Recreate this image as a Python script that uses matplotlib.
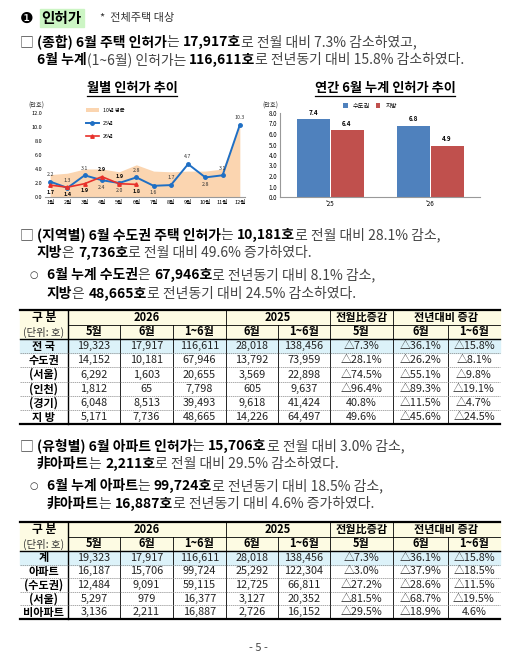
import matplotlib
matplotlib.use("Agg")
import matplotlib.pyplot as plt
import numpy as np

plt.rcParams['font.family'] = ['Noto Sans CJK KR', 'DejaVu Sans']

W, H = 516, 659

# ---- data ----
months = ['1월', '2월', '3월', '4월', '5월', '6월', '7월', '8월', '9월', '10월', '11월', '12월']
avg10 = [3.2, 3.4, 4.0, 4.0, 3.6, 4.6, 3.7, 3.6, 3.7, 3.7, 4.0, 10.2]
y25 = [2.2, 1.3, 3.1, 2.4, 2.0, 2.8, 1.6, 1.7, 4.7, 2.8, 3.1, 10.3]
y26 = [1.7, 1.4, 1.9, 2.9, 1.9, 1.8]

bar_years = ["'25", "'26"]
metro = [7.4, 6.8]
local = [6.4, 4.9]

t1_rows = ['전 국', '수도권', '(서울)', '(인천)', '(경기)', '지 방']
t1_vals = [
    ['19,323', '17,917', '116,611', '28,018', '138,456', '△7.3%', '△36.1%', '△15.8%'],
    ['14,152', '10,181', '67,946', '13,792', '73,959', '△28.1%', '△26.2%', '△8.1%'],
    ['6,292', '1,603', '20,655', '3,569', '22,898', '△74.5%', '△55.1%', '△9.8%'],
    ['1,812', '65', '7,798', '605', '9,637', '△96.4%', '△89.3%', '△19.1%'],
    ['6,048', '8,513', '39,493', '9,618', '41,424', '40.8%', '△11.5%', '△4.7%'],
    ['5,171', '7,736', '48,665', '14,226', '64,497', '49.6%', '△45.6%', '△24.5%'],
]
t2_rows = ['계', '아파트', '(수도권)', '(서울)', '비아파트']
t2_vals = [
    ['19,323', '17,917', '116,611', '28,018', '138,456', '△7.3%', '△36.1%', '△15.8%'],
    ['16,187', '15,706', '99,724', '25,292', '122,304', '△3.0%', '△37.9%', '△18.5%'],
    ['12,484', '9,091', '59,115', '12,725', '66,811', '△27.2%', '△28.6%', '△11.5%'],
    ['5,297', '979', '16,377', '3,127', '20,352', '△81.5%', '△68.7%', '△19.5%'],
    ['3,136', '2,211', '16,887', '2,726', '16,152', '△29.5%', '△18.9%', '4.6%'],
]
head1 = [('2026', 1, 4), ('2025', 4, 6), ('전월比증감', 6, 7), ('전년대비 증감', 7, 9)]
head2 = ['5월', '6월', '1~6월', '6월', '1~6월', '5월', '6월', '1~6월']

fig = plt.figure(figsize=(W / 100, H / 100), dpi=100)
ax = fig.add_axes([0, 0, 1, 1])
ax.set_xlim(0, W)
ax.set_ylim(H, 0)
ax.axis('off')
r = fig.canvas.get_renderer()


def run(x, y, parts, size=10):
    for text, bold in parts:
        t = ax.text(x, y, text, fontsize=size, va='center',
                    fontweight='bold' if bold else 'normal',
                    color='black' if bold else '#444444')
        x += t.get_window_extent(r).width


def bullet(x, y):
    ax.text(x, y, '○', fontsize=7, va='center', family=['DejaVu Sans'], color='#333333')


# ---- text lines ----
ax.add_patch(plt.Rectangle((40, 9), 44, 18, color='#ccf5c4', zorder=0))
ax.text(20, 18, '❶', fontsize=11, va='center', family=['DejaVu Sans'])
ax.text(41, 18, '인허가', fontsize=10.5, va='center', fontweight='bold')
ax.text(100, 18, '*  전체주택 대상', fontsize=8, va='center', color='#333333')

run(20, 42, [('□ ', False), ('(종합) 6월 주택 인허가', True), ('는 ', False), ('17,917호', True),
             ('로 전월 대비 7.3% 감소하였고,', False)])
run(37, 60, [('6월 누계', True), ('(1~6월) 인허가는 ', False), ('116,611호', True),
             ('로 전년동기 대비 15.8% 감소하였다.', False)])
run(20, 235, [('□ ', False), ('(지역별) 6월 수도권 주택 인허가', True), ('는 ', False), ('10,181호', True),
              ('로 전월 대비 28.1% 감소,', False)])
run(37, 253, [('지방', True), ('은 ', False), ('7,736호', True), ('로 전월 대비 49.6% 증가하였다.', False)])
bullet(30, 275)
run(47, 275, [('6월 누계 수도권', True), ('은 ', False), ('67,946호', True),
              ('로 전년동기 대비 8.1% 감소,', False)])
run(47, 294, [('지방', True), ('은 ', False), ('48,665호', True), ('로 전년동기 대비 24.5% 감소하였다.', False)])
run(20, 446, [('□ ', False), ('(유형별) 6월 아파트 인허가', True), ('는 ', False), ('15,706호', True),
              ('로 전월 대비 3.0% 감소,', False)])
run(37, 464, [('非아파트', True), ('는 ', False), ('2,211호', True), ('로 전월 대비 29.5% 감소하였다.', False)])
bullet(30, 486)
run(47, 486, [('6월 누계 아파트', True), ('는 ', False), ('99,724호', True),
              ('로 전년동기 대비 18.5% 감소,', False)])
run(47, 504, [('非아파트', True), ('는 ', False), ('16,887호', True), ('로 전년동기 대비 4.6% 증가하였다.', False)])
ax.text(258, 648, '- 5 -', fontsize=8, ha='center', va='center', color='#444444')

# ---- chart titles ----
for cx, title in [(132, '월별 인허가 추이'), (385, '연간 6월 누계 인허가 추이')]:
    t = ax.text(cx, 88, title, fontsize=9.5, fontweight='bold', ha='center', va='center')
    bb = t.get_window_extent(r)
    ax.plot([cx - bb.width / 2, cx + bb.width / 2], [96, 96], color='black', lw=0.9)


def fbox(x0, y0, x1, y1):
    return [x0 / W, 1 - y1 / H, (x1 - x0) / W, (y1 - y0) / H]


# ---- left line chart ----
a1 = fig.add_axes(fbox(45, 113, 245, 197))
x = np.arange(len(months))
a1.fill_between(x, avg10, color='#fbd5b0', label='10년 평균', lw=0)
a1.plot(x, y25, color='#1f6fc4', marker='o', ms=2.5, lw=1.4, label='25년')
a1.plot(np.arange(len(y26)), y26, color='#e8302a', marker='^', ms=2.5, lw=1.2, label='26년')
for i, v in enumerate(y25):
    off = 6 if i in (0, 1, 2, 5, 7, 8, 10, 11) else -6
    a1.text(i, v + off * 0.17, f'{v:.1f}', fontsize=3.8, ha='center', va='center', color='#333333')
for i, v in enumerate(y26):
    off = -6 if i in (0, 1, 2, 5) else 6
    a1.text(i, v + off * 0.17, f'{v:.1f}', fontsize=3.8, ha='center', va='center', fontweight='bold')
a1.set_ylim(0, 12)
a1.set_yticks(np.arange(0, 12.1, 2))
a1.set_yticklabels([f'{v:.1f}' for v in np.arange(0, 12.1, 2)])
a1.set_xlim(-0.3, 11.3)
a1.set_xticks(x)
a1.set_xticklabels(months)
a1.tick_params(labelsize=4, length=0, pad=2)
for s in ['top', 'right', 'left']:
    a1.spines[s].set_visible(False)
a1.spines['bottom'].set_color('#999999')
a1.legend(loc='upper left', bbox_to_anchor=(0.18, 1.12), fontsize=3.8, frameon=False, labelspacing=1.5,
          handlelength=2.5)
ax.text(28, 106, '(만호)', fontsize=4.5, va='center', color='#333333')

# ---- right bar chart ----
a2 = fig.add_axes(fbox(280, 113, 480, 197))
xb = np.arange(len(bar_years))
a2.bar(xb - 0.17, metro, 0.33, color='#4f81bd', label='수도권')
a2.bar(xb + 0.17, local, 0.33, color='#c0504d', label='지방')
for i in range(len(bar_years)):
    a2.text(i - 0.17, metro[i] + 0.4, f'{metro[i]:.1f}', fontsize=4.5, ha='center', fontweight='bold')
    a2.text(i + 0.17, local[i] + 0.4, f'{local[i]:.1f}', fontsize=4.5, ha='center', fontweight='bold')
a2.set_ylim(0, 8)
a2.set_yticks(np.arange(0, 8.1, 1))
a2.set_yticklabels([f'{v:.1f}' for v in np.arange(0, 8.1, 1)])
a2.set_xlim(-0.5, 1.5)
a2.set_xticks(xb)
a2.set_xticklabels(bar_years)
a2.tick_params(labelsize=4.5, length=0, pad=2)
for s in ['top', 'right']:
    a2.spines[s].set_visible(False)
a2.spines['left'].set_color('#999999')
a2.spines['bottom'].set_color('#999999')
a2.legend(loc='upper center', bbox_to_anchor=(0.45, 1.2), ncol=2, fontsize=4.5, frameon=False,
          handlelength=0.7, columnspacing=1)
ax.text(262, 106, '(만호)', fontsize=4.5, va='center', color='#333333')

# ---- tables ----
cols = [20, 68, 120, 173, 226, 278, 330, 393, 448, 500]


def table(top, rows, vals, rh):
    h1, h2 = top + 15, top + 29
    bottom = h2 + rh * len(rows)
    ax.add_patch(plt.Rectangle((cols[0], top), cols[-1] - cols[0], h2 - top, color='#fdfbe3', zorder=0))
    ax.add_patch(plt.Rectangle((cols[0], h2), cols[-1] - cols[0], rh, color='#dcf2f9', zorder=0))
    ax.plot([cols[0], cols[-1]], [top, top], color='black', lw=1.6)
    ax.plot([cols[0], cols[-1]], [bottom, bottom], color='black', lw=1.6)
    ax.plot([cols[0], cols[-1]], [h2, h2], color='black', lw=1.0)
    ax.plot([cols[1], cols[-1]], [h1, h1], color='black', lw=0.6)
    ax.plot([cols[1], cols[1]], [top, bottom], color='black', lw=1.0)
    for xc in [cols[4], cols[6], cols[7]]:
        ax.plot([xc, xc], [top, bottom], color='black', lw=0.6)
    for xc in [cols[2], cols[3], cols[5], cols[8]]:
        ax.plot([xc, xc], [h1, bottom], color='black', lw=0.6)
    for i in range(1, len(rows)):
        yl = h2 + rh * i
        ax.plot([cols[0], cols[-1]], [yl, yl], color='#888888', lw=0.5, ls=(0, (2, 1)))
    ax.text((cols[0] + cols[1]) / 2, (top + h1) / 2, '구 분', fontsize=8.5, fontweight='bold',
            ha='center', va='center')
    ax.text((cols[0] + cols[1]) / 2, (h1 + h2) / 2, '(단위: 호)', fontsize=7.5,
            ha='center', va='center', color='#333333')
    for lab, c0, c1 in head1:
        ax.text((cols[c0] + cols[c1]) / 2, (top + h1) / 2, lab, fontsize=8, fontweight='bold',
                ha='center', va='center')
    for j, lab in enumerate(head2):
        ax.text((cols[j + 1] + cols[j + 2]) / 2, (h1 + h2) / 2, lab, fontsize=8, fontweight='bold',
                ha='center', va='center')
    for i, (lab, row) in enumerate(zip(rows, vals)):
        yc = h2 + rh * (i + 0.5)
        ax.text((cols[0] + cols[1]) / 2, yc, lab, fontsize=8, fontweight='bold', ha='center', va='center')
        for j, v in enumerate(row):
            ax.text((cols[j + 1] + cols[j + 2]) / 2, yc, v, fontsize=7.8, ha='center', va='center',
                    color='#222222')


table(310, t1_rows, t1_vals, 14.2)
table(522, t2_rows, t2_vals, 13.6)

fig.savefig('out.png', dpi=100)
